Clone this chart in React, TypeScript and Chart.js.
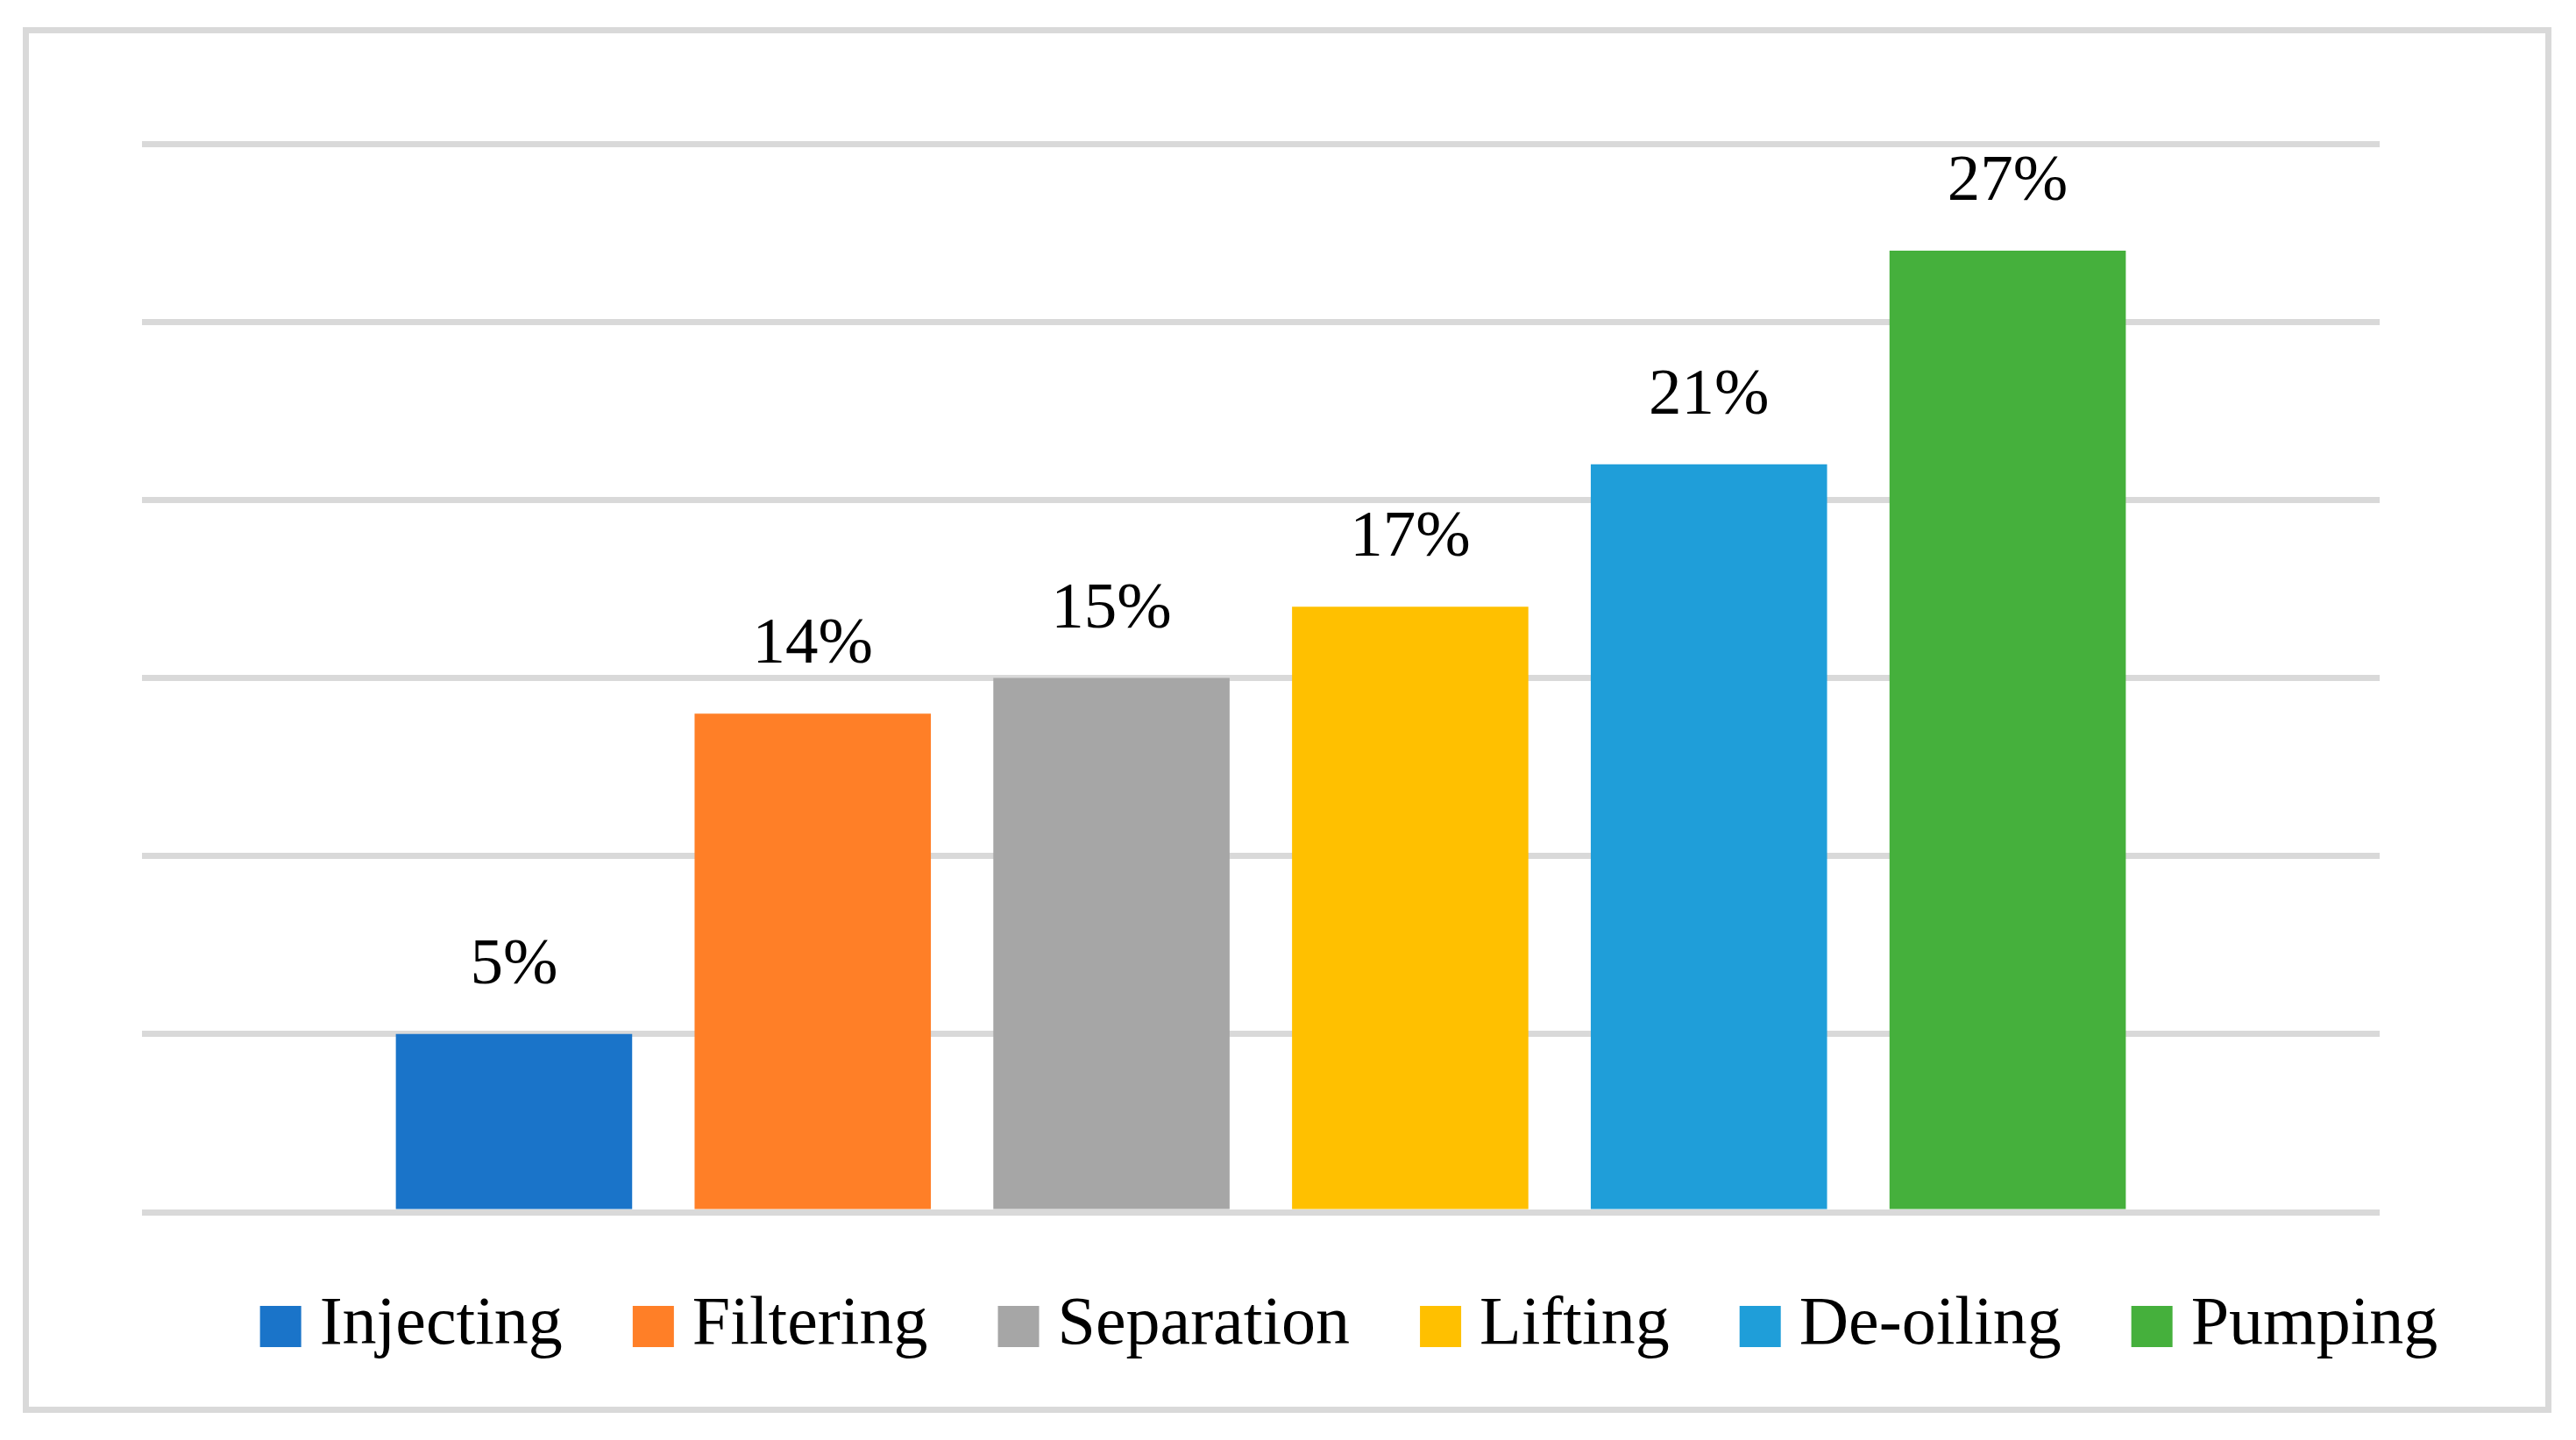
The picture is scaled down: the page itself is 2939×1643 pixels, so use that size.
import React, { useEffect, useRef } from "react";
import { Chart, registerables } from "chart.js";

Chart.register(...registerables);

const categories: string[] = ["Injecting", "Filtering", "Separation", "Lifting", "De-oiling", "Pumping"];
const values: number[] = [5, 14, 15, 17, 21, 27];
const colors: string[] = ["#1A74C9", "#FF7F27", "#A6A6A6", "#FFC000", "#1F9ED9", "#45B03C"];
const yTicks: number[] = [0, 5, 10, 15, 20, 25, 30];
const groupLabel: string[] = ["Energy share"];

const W = 2939;
const H = 1643;
const FONT = '"Liberation Serif", "Times New Roman", serif';

const valueLabelPlugin = {
  id: "valueLabels",
  afterDatasetsDraw(chart: any) {
    const ctx = chart.ctx;
    ctx.save();
    ctx.font = `75px ${FONT}`;
    ctx.fillStyle = "#000000";
    ctx.textAlign = "center";
    ctx.textBaseline = "alphabetic";
    chart.data.datasets.forEach((ds: any, i: number) => {
      const meta = chart.getDatasetMeta(i);
      const el = meta.data[0];
      if (!el) return;
      ctx.fillText(`${ds.data[0]}%`, el.x, el.y - 58);
    });
    ctx.restore();
  },
};

const legendPlugin = {
  id: "customLegend",
  afterDraw(chart: any) {
    const ctx = chart.ctx;
    const box = 47;
    const textGap = 21;
    const itemGap = 80;
    const centerX = 1539;
    const boxTop = 1490;
    const baseline = 1533;
    ctx.save();
    ctx.font = `78px ${FONT}`;
    ctx.textAlign = "left";
    ctx.textBaseline = "alphabetic";
    const items = chart.data.datasets.map((ds: any) => ({
      text: ds.label as string,
      color: ds.backgroundColor as string,
      w: ctx.measureText(ds.label).width,
    }));
    let total = 0;
    items.forEach((it: any, i: number) => {
      total += box + textGap + it.w + (i < items.length - 1 ? itemGap : 0);
    });
    let x = centerX - total / 2;
    items.forEach((it: any) => {
      ctx.fillStyle = it.color;
      ctx.fillRect(x, boxTop, box, box);
      ctx.fillStyle = "#000000";
      ctx.fillText(it.text, x + box + textGap, baseline);
      x += box + textGap + it.w + itemGap;
    });
    ctx.restore();
  },
};

export default function App() {
  const canvasRef = useRef<HTMLCanvasElement | null>(null);

  useEffect(() => {
    const canvas = canvasRef.current;
    if (!canvas) return;
    const chart = new Chart(canvas, {
      type: "bar",
      data: {
        labels: groupLabel,
        datasets: categories.map((c, i) => ({
          label: c,
          data: [values[i]],
          backgroundColor: colors[i],
          borderWidth: 0,
          categoryPercentage: 0.801,
          barPercentage: 0.791,
        })),
      },
      options: {
        animation: false,
        responsive: false,
        devicePixelRatio: 1,
        layout: { padding: { left: 162, right: 224, top: 164, bottom: 260 } },
        plugins: {
          legend: { display: false },
          tooltip: { enabled: false },
          title: { display: false },
        },
        scales: {
          x: { display: false, offset: true },
          y: {
            min: yTicks[0],
            max: yTicks[yTicks.length - 1],
            afterBuildTicks: (scale: any) => {
              scale.ticks = yTicks.map((v) => ({ value: v }));
            },
            ticks: { display: false },
            border: { display: false },
            grid: { color: "#D9D9D9", lineWidth: 7, drawTicks: false },
          },
        },
      },
      plugins: [valueLabelPlugin, legendPlugin],
    });
    let alive = true;
    if ((document as any).fonts && (document as any).fonts.load) {
      Promise.all([
        (document as any).fonts.load(`78px "Liberation Serif"`),
        (document as any).fonts.load(`75px "Liberation Serif"`),
      ]).then(() => {
        if (alive) chart.update();
      });
    }
    return () => {
      alive = false;
      chart.destroy();
    };
  }, []);

  return (
    <div style={{ position: "fixed", left: 0, top: 0, width: W, height: H, background: "#FFFFFF" }}>
      <div
        style={{
          position: "absolute",
          left: 26,
          top: 31,
          width: 2885,
          height: 1581,
          border: "7px solid #D9D9D9",
          boxSizing: "border-box",
        }}
      />
      <canvas ref={canvasRef} width={W} height={H} style={{ position: "absolute", left: 0, top: 0, width: W, height: H }} />
    </div>
  );
}
